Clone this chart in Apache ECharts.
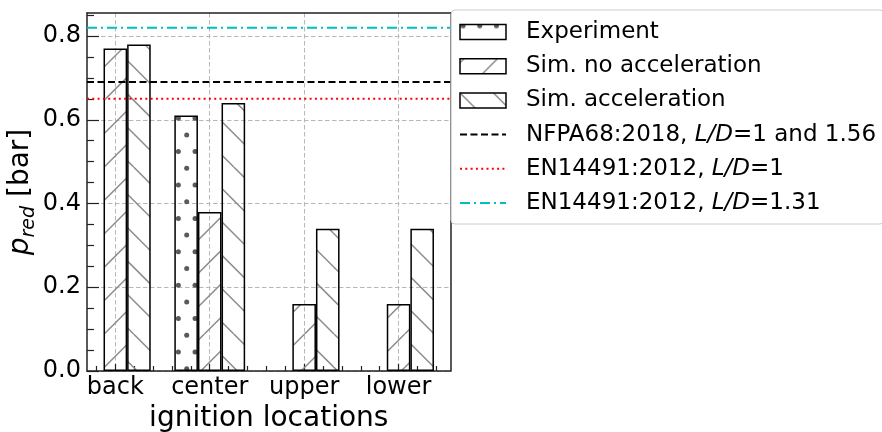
<!DOCTYPE html>
<html><head><meta charset="utf-8">
<script src="https://cdn.jsdelivr.net/npm/echarts@6/dist/echarts.min.js"></script>
<style>html,body{margin:0;padding:0;background:#fff}#c{width:882px;height:432px}</style>
</head><body><div id="c"></div>
<script>
// ---- data ----
const categories = ['back', 'center', 'upper', 'lower'];
const seriesNames = ['Experiment', 'Sim. no acceleration', 'Sim. acceleration'];
const experiment = [null, 0.61, null, null];
const simNoAcc = [0.77, 0.38, 0.16, 0.16];
const simAcc = [0.78, 0.64, 0.34, 0.34];
const refNames = ['NFPA68:2018, L/D=1 and 1.56', 'EN14491:2012, L/D=1', 'EN14491:2012, L/D=1.31'];
const refValues = [0.69, 0.65, 0.82];
const xTicks = [0, 1, 2, 3];
const yTicks = [0, 0.2, 0.4, 0.6, 0.8];
const yTickLabels = ['0.0', '0.2', '0.4', '0.6', '0.8'];
const xMin = -0.3, xMax = 3.55, yMin = 0, yMax = 0.855;

// ---- styles ----
const FONT = 'DejaVu Sans';
const xMinor = [];
for (let v = -0.2; v < xMax; v += 0.2) { const r = Math.round(v * 10) / 10; if (Math.abs(r - Math.round(r)) > 1e-6) xMinor.push(r); }
const yMinor = [];
for (let v = 0.05; v < yMax; v += 0.05) { const r = Math.round(v * 100) / 100; if (Math.abs(r / 0.2 - Math.round(r / 0.2)) > 1e-6) yMinor.push(r); }

function hatch(dir, offset) {
  const S = 167, P = 33.4;
  const c = document.createElement('canvas'); c.width = S; c.height = S;
  const g = c.getContext('2d');
  g.strokeStyle = '#8c8c8c'; g.lineWidth = 1.5;
  for (let k = -6; k <= 11; k++) {
    const cc = k * P + offset;
    g.beginPath();
    if (dir === '/') { g.moveTo(cc, 0); g.lineTo(cc - S, S); }
    else { g.moveTo(cc, 0); g.lineTo(cc + S, S); }
    g.stroke();
  }
  return c;
}
function dots() {
  const S = 167, PX = 16.7, PY = 33.4;
  const c = document.createElement('canvas'); c.width = S; c.height = S;
  const g = c.getContext('2d');
  g.fillStyle = '#5a5a5a';
  for (let i = -1; i <= 11; i++) for (let j = -1; j <= 6; j++) {
    [[3 + i * PX, 1.3 + j * PY], [11.35 + i * PX, 18 + j * PY]].forEach(p => {
      g.beginPath(); g.arc(p[0], p[1], 2.5, 0, Math.PI * 2); g.fill();
    });
  }
  return c;
}
const patterns = [
  { image: dots(), repeat: 'repeat' },
  { image: hatch('/', 4), repeat: 'repeat' },
  { image: hatch('\\', 0), repeat: 'repeat' }
];
const refStyles = [
  { color: '#000000', width: 2, type: [7, 3.5] },
  { color: '#ff0000', width: 2, type: [2, 3.3] },
  { color: '#00bfbf', width: 2, type: [10, 4, 2, 4] }
];
const barValues = [experiment, simNoAcc, simAcc];
const axisColor = '#222';
const gridLine = { show: true, lineStyle: { color: '#b8b8b8', width: 1, type: [4.5, 2.5] } };

const series = [];
barValues.forEach((vals, s) => {
  series.push({
    name: seriesNames[s], type: 'bar', xAxisIndex: 0, yAxisIndex: 0,
    data: categories.map((c, i) => [i, vals[i] == null ? '-' : vals[i]]),
    barWidth: '25%', barGap: '0%',
    itemStyle: { color: patterns[s], borderColor: '#000', borderWidth: 1.5 },
    emphasis: { disabled: true }, silent: true, z: 2
  });
});
refValues.forEach((v, k) => {
  series.push({
    name: refNames[k], type: 'line', xAxisIndex: 0, yAxisIndex: 0,
    data: [[xMin, v], [xMax, v]], symbol: 'none', silent: true,
    lineStyle: refStyles[k], itemStyle: { color: refStyles[k].color }, z: 3
  });
});

const chart = echarts.init(document.getElementById('c'), null, { renderer: 'canvas' });
chart.setOption({
  animation: false,
  textStyle: { fontFamily: FONT },
  grid: { left: 87, right: 431.5, top: 13, bottom: 61, containLabel: false, outerBoundsMode: 'none' },
  xAxis: [
    {
      type: 'value', min: xMin, max: xMax, position: 'bottom',
      axisLine: { show: true, onZero: false, lineStyle: { color: axisColor, width: 1.5 } },
      axisTick: { show: true, inside: true, length: 7, customValues: xTicks, lineStyle: { color: axisColor, width: 1.2 } },
      axisLabel: { customValues: xTicks, formatter: v => categories[Math.round(v)], fontSize: 24, fontFamily: FONT, color: '#000', margin: 5 },
      splitLine: gridLine,
      name: 'ignition locations', nameLocation: 'middle', nameGap: 27,
      nameTextStyle: { fontSize: 28, fontFamily: FONT, color: '#000' }
    },
    {
      type: 'value', min: xMin, max: xMax, position: 'bottom',
      axisLine: { show: false, onZero: false },
      axisTick: { show: true, inside: true, length: 5, customValues: xMinor, lineStyle: { color: axisColor, width: 1.2 } },
      axisLabel: { show: false }, splitLine: { show: false }
    },
    {
      type: 'value', min: xMin, max: xMax, position: 'top',
      axisLine: { show: true, onZero: false, lineStyle: { color: axisColor, width: 1.5 } },
      axisTick: { show: false }, axisLabel: { show: false }, splitLine: { show: false }
    }
  ],
  yAxis: [
    {
      type: 'value', min: yMin, max: yMax, position: 'left',
      axisLine: { show: true, onZero: false, lineStyle: { color: axisColor, width: 1.5 } },
      axisTick: { show: true, inside: true, length: 12, customValues: yTicks, lineStyle: { color: axisColor, width: 1.2 } },
      axisLabel: { customValues: yTicks, formatter: v => yTickLabels[yTicks.findIndex(t => Math.abs(t - v) < 1e-6)], fontSize: 24, fontFamily: FONT, color: '#000', margin: 6 },
      splitLine: gridLine,
      name: '{i|p}{s|red} [bar]', nameLocation: 'middle', nameGap: 47, nameRotate: 90,
      nameTextStyle: {
        fontSize: 28, fontFamily: FONT, color: '#000', lineHeight: 36,
        rich: {
          i: { fontSize: 28, fontStyle: 'italic', fontFamily: FONT, color: '#000', lineHeight: 36 },
          s: { fontSize: 19, fontStyle: 'italic', fontFamily: FONT, color: '#000', lineHeight: 18, verticalAlign: 'bottom' }
        }
      }
    },
    {
      type: 'value', min: yMin, max: yMax, position: 'left',
      axisLine: { show: false, onZero: false },
      axisTick: { show: true, inside: true, length: 7, customValues: yMinor, lineStyle: { color: axisColor, width: 1.2 } },
      axisLabel: { show: false }, splitLine: { show: false }
    },
    {
      type: 'value', min: yMin, max: yMax, position: 'right',
      axisLine: { show: true, onZero: false, lineStyle: { color: axisColor, width: 1.5 } },
      axisTick: { show: false }, axisLabel: { show: false }, splitLine: { show: false }
    }
  ],
  legend: {
    orient: 'vertical', left: 451, top: 10,
    itemWidth: 46, itemHeight: 15, itemGap: 10.2,
    padding: [10, 8, 9, 8],
    backgroundColor: 'rgba(255,255,255,0.85)', borderColor: '#cccccc', borderWidth: 1, borderRadius: 4,
    selectedMode: false,
    textStyle: {
      fontFamily: FONT, fontSize: 23, color: '#000', lineHeight: 24, padding: [0, 0, 0, 15],
      rich: { i: { fontFamily: FONT, fontSize: 23, fontStyle: 'italic', color: '#000', lineHeight: 24 } }
    },
    formatter: n => n.replace('L/D', '{i|L/D}'),
    data: seriesNames.map(n => ({ name: n, icon: 'rect', itemStyle: { borderColor: '#000', borderWidth: 1.5 } }))
      .concat(refNames.map(n => ({ name: n, itemStyle: { opacity: 0 } })))
  },
  series: series
});
</script>
</body></html>
